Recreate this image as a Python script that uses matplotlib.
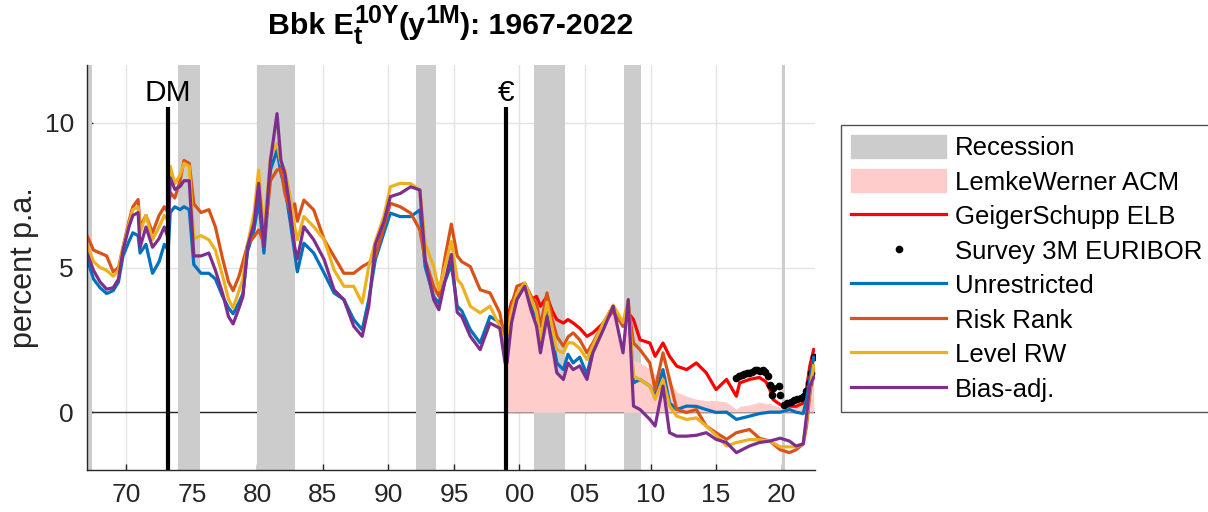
import matplotlib
matplotlib.use("Agg")
import matplotlib.pyplot as plt
from matplotlib.patches import Patch
from matplotlib.lines import Line2D

plt.rcParams['font.family'] = ['Liberation Sans', 'DejaVu Sans']

# ---------------- data ----------------
recessions = [(1967.0, 1967.35), (1973.95, 1975.6), (1980.0, 1982.9),
              (1992.1, 1993.6), (2001.1, 2003.5), (2008.0, 2009.3),
              (2020.0, 2020.25)]

years = [1967.0, 1967.5, 1968.0, 1968.5, 1969.0, 1969.4, 1969.75, 1970.2, 1970.5, 1970.9,
         1971.05, 1971.5, 1972.0, 1972.5, 1972.9, 1973.2, 1973.35, 1973.7, 1974.1, 1974.4,
         1974.8, 1975.15, 1975.7, 1976.3, 1976.8, 1977.35, 1977.8, 1978.15, 1978.6, 1978.9,
         1979.25, 1979.75, 1980.1, 1980.5, 1981.0, 1981.5, 1981.8, 1982.1, 1982.5, 1982.85,
         1983.05, 1983.55, 1984.3, 1985.1, 1985.85, 1986.6, 1987.35, 1988.0, 1988.5, 1989.0,
         1989.65, 1990.15, 1990.9, 1991.7, 1992.4, 1992.8, 1993.45, 1993.85, 1994.3, 1994.8,
         1995.25, 1995.6, 1996.25, 1997.0, 1997.75, 1998.5, 1998.9, 1999.05, 1999.4, 1999.8,
         2000.4, 2000.9, 2001.3, 2001.6, 2002.1, 2002.5, 2002.85, 2003.35, 2003.7, 2004.1,
         2004.6, 2005.15, 2005.6, 2006.4, 2007.15, 2007.9, 2008.3, 2008.7, 2009.2, 2009.95,
         2010.35, 2010.95, 2011.45, 2012.0, 2012.75, 2013.5, 2014.25, 2015.0, 2015.8, 2016.55,
         2017.55, 2018.3, 2019.1, 2019.9, 2020.6, 2021.1, 2021.65, 2021.9, 2022.15, 2022.45]

unrestricted = [5.3, 4.6, 4.3, 4.1, 4.2, 4.5, 5.4, 5.9, 6.2, 6.1,
                5.5, 5.8, 4.8, 5.2, 5.8, 5.6, 6.9, 7.1, 7.0, 7.1,
                7.0, 5.1, 4.8, 4.8, 4.6, 4.0, 3.6, 3.4, 3.8, 4.1,
                5.55, 6.3, 7.33, 5.5, 8.37, 9.06, 8.26, 7.79, 6.6, 5.5,
                4.85, 5.84, 5.5, 4.8, 4.12, 3.89, 3.2, 2.85, 3.89, 5.27,
                6.19, 6.88, 6.76, 6.76, 6.99, 5.03, 4.0, 3.77, 4.5, 5.1,
                3.66, 3.5, 2.85, 2.39, 3.31, 3.1, 2.05, 2.16, 3.3, 3.9,
                4.4, 3.7, 3.2, 2.28, 3.5, 2.6, 1.7, 1.47, 2.0, 1.7,
                1.9, 1.3, 2.2, 3.08, 3.66, 2.97, 3.8, 1.01, 1.13, 0.9,
                0.55, 1.47, 0.32, 0.09, 0.21, 0.2, 0.09, -0.01, 0.0, -0.25,
                -0.14, -0.05, 0.0, 0.0, 0.09, 0.0, -0.05, 0.44, 1.13, 1.9]

risk_rank = [6.1, 5.6, 5.5, 5.4, 4.85, 5.0, 5.7, 6.6, 7.1, 7.35,
             6.4, 6.8, 6.2, 6.8, 7.1, 6.9, 7.6, 7.4, 8.0, 8.7,
             8.6, 7.2, 6.9, 7.0, 6.4, 5.3, 4.5, 4.2, 4.7, 5.2,
             5.78, 6.07, 6.3, 5.84, 8.0, 8.37, 8.4, 7.56, 6.95, 7.2,
             6.6, 7.33, 6.99, 5.96, 5.38, 4.8, 4.8, 5.03, 5.16, 5.38,
             6.41, 7.22, 7.1, 6.88, 6.3, 5.27, 4.35, 4.0, 5.3, 6.5,
             5.4, 5.2, 5.03, 4.23, 4.12, 3.43, 2.5, 2.97, 3.7, 4.35,
             4.46, 4.0, 3.77, 2.97, 4.12, 3.2, 2.62, 2.28, 2.6, 2.74,
             2.5, 2.05, 2.39, 3.08, 3.5, 2.97, 3.7, 2.39, 2.16, 1.7,
             0.78, 2.05, 1.13, 0.09, -0.01, 0.09, -0.48, -0.71, -0.94, -0.71,
             -0.6, -0.9, -1.0, -1.3, -1.4, -1.3, -1.1, -0.5, 0.6, 1.59]

level_rw = [5.8, 5.2, 5.0, 4.9, 4.7, 4.9, 5.7, 6.5, 7.0, 7.1,
            6.2, 6.8, 5.96, 6.4, 6.8, 6.6, 8.5, 7.9, 8.2, 8.6,
            8.5, 6.0, 6.1, 5.96, 5.6, 4.7, 3.9, 3.6, 4.2, 4.6,
            5.8, 6.88, 8.37, 6.19, 8.83, 9.29, 8.6, 8.37, 7.45, 6.4,
            5.96, 6.76, 6.41, 5.96, 4.92, 4.35, 4.35, 3.77, 5.03, 5.9,
            6.76, 7.79, 7.91, 7.9, 7.68, 5.84, 5.03, 4.23, 5.0, 5.9,
            4.6, 4.4, 3.66, 3.43, 3.66, 2.97, 2.28, 2.6, 3.5, 4.1,
            4.46, 3.9, 3.43, 2.5, 3.8, 2.9, 2.16, 2.05, 2.4, 2.39,
            2.2, 1.82, 2.3, 3.08, 3.7, 3.1, 3.89, 1.24, 1.13, 0.9,
            0.44, 1.13, 0.21, -0.14, -0.25, -0.2, -0.48, -0.8, -1.17, -1.05,
            -0.95, -0.95, -1.0, -1.2, -1.2, -1.2, -1.1, -0.3, 0.8, 1.6]

bias_adj = [5.5, 4.9, 4.5, 4.25, 4.3, 4.6, 5.6, 6.4, 6.8, 6.9,
            5.7, 6.4, 5.7, 6.0, 6.4, 6.0, 8.1, 7.7, 7.8, 8.0,
            8.0, 5.4, 5.4, 5.5, 4.9, 4.1, 3.3, 3.05, 3.6, 4.0,
            5.72, 6.53, 7.91, 5.72, 8.71, 10.32, 8.7, 8.25, 7.0, 5.7,
            5.3, 6.41, 5.96, 5.27, 4.23, 3.89, 2.97, 2.62, 3.66, 5.8,
            6.58, 7.45, 7.56, 7.79, 7.68, 5.27, 3.89, 3.54, 4.5, 5.45,
            3.45, 3.3, 2.62, 2.16, 3.08, 2.9, 1.7, 1.7, 3.1, 3.89,
            4.35, 3.5, 2.97, 2.05, 3.31, 2.3, 1.36, 1.13, 1.7, 1.47,
            1.6, 1.13, 2.05, 2.85, 3.66, 2.05, 3.89, 0.21, 0.09, -0.25,
            -0.48, 0.9, -0.71, -0.83, -0.83, -0.8, -0.71, -0.94, -1.05, -1.4,
            -1.17, -1.05, -1.0, -0.9, -1.0, -1.17, -1.1, -0.14, 0.9, 1.2]

years_ez = [1999.05, 1999.4, 1999.8, 2000.4, 2000.9, 2001.3, 2001.6, 2002.1, 2002.5, 2002.85,
            2003.35, 2003.7, 2004.1, 2004.6, 2005.15, 2005.6, 2006.4, 2007.15, 2007.9, 2008.3,
            2008.7, 2009.2, 2009.95, 2010.35, 2010.95, 2011.45, 2012.0, 2012.75, 2013.5, 2014.25,
            2015.0, 2015.8, 2016.55, 2016.8, 2017.55, 2018.3, 2018.8, 2019.1, 2019.35, 2019.7,
            2020.1, 2020.6, 2021.1, 2021.6, 2021.9, 2022.15, 2022.45]

geiger_schupp = [3.2, 3.8, 4.12, 4.3, 3.9, 4.0, 3.66, 4.0, 3.5, 3.2,
                 3.08, 3.2, 3.08, 2.9, 2.62, 2.74, 3.08, 3.5, 3.08, 3.43,
                 3.2, 2.5, 2.39, 1.93, 2.39, 1.93, 1.59, 1.47, 1.7, 1.36,
                 0.78, 1.13, 0.55, 1.01, 1.13, 1.2, 1.05, 0.78, 0.44, 0.32,
                 0.21, 0.21, 0.2, 0.3, 0.8, 1.59, 2.16]

lemke_werner = [1.7, 3.0, 3.8, 4.3, 3.45, 2.9, 2.0, 3.25, 2.25, 1.3,
                1.1, 1.65, 1.45, 1.55, 1.1, 2.0, 2.8, 3.6, 2.0, 3.8,
                1.8, 1.7, 1.5, 1.3, 1.4, 1.1, 0.7, 0.55, 0.45, 0.4,
                0.4, 0.35, 0.1, 0.2, 0.25, 0.35, 0.3, 0.3, 0.25, 0.2,
                0.15, 0.2, 0.2, 0.25, 0.6, 1.4, 2.4]

survey_dates = [2016.55, 2016.75, 2016.95, 2017.15, 2017.35, 2017.55, 2017.75, 2017.95, 2018.15,
                2018.35, 2018.55, 2018.75, 2018.95, 2019.15, 2019.3, 2019.35, 2019.8, 2019.85,
                2020.2, 2020.45, 2020.7, 2020.95, 2021.2, 2021.45, 2021.7, 2021.87, 2022.1,
                2022.25, 2022.45]
survey_3m = [1.19, 1.25, 1.30, 1.33, 1.35, 1.37, 1.40, 1.45, 1.47,
             1.42, 1.45, 1.40, 1.25, 0.95, 0.6, 0.85, 0.9, 0.6,
             0.26, 0.3, 0.36, 0.43, 0.47, 0.5, 0.55, 0.72, 1.02,
             1.36, 1.92]

events = [(1973.2, 'DM'), (1999.0, '€')]
xtick_years = [1970, 1975, 1980, 1985, 1990, 1995, 2000, 2005, 2010, 2015, 2020]
xtick_labels = ['70', '75', '80', '85', '90', '95', '00', '05', '10', '15', '20']
ytick_values = [0, 5, 10]

# ---------------- colours ----------------
c_rec = '#CCCCCC'
c_pink = '#FFCCCC'
c_red = '#FF0000'
c_blue = '#0072BD'
c_orange = '#D95319'
c_yellow = '#EDB120'
c_purple = '#7E2F8E'
c_axis = '#262626'
LW = 2.3

W, H = 1208, 512
fig = plt.figure(figsize=(W / 100, H / 100), dpi=100)
ax = fig.add_axes([87/W, 42/H, 728/W, 405/H])

for a, b in recessions:
    ax.axvspan(a, b, color=c_rec, lw=0, zorder=1)

ax.axhline(0, color=c_axis, lw=1.0, zorder=0.8)

ax.fill_between(years_ez, 0, lemke_werner, color=c_pink, lw=0, zorder=1.5)
ax.plot(years_ez, geiger_schupp, color=c_red, lw=LW, zorder=2)
ax.plot(survey_dates, survey_3m, ls='none', marker='o', ms=4.5, color='black', zorder=2.2)
ax.plot(years, unrestricted, color=c_blue, lw=LW, zorder=2.3)
ax.plot(years, risk_rank, color=c_orange, lw=LW, zorder=2.4)
ax.plot(years, level_rw, color=c_yellow, lw=LW, zorder=2.5)
ax.plot(years, bias_adj, color=c_purple, lw=LW, zorder=2.6)

for x, lab in events:
    ax.plot([x, x], [-2, 10.55], color='black', lw=3.0, zorder=5, solid_capstyle='butt')
    ax.text(x, 10.75, lab, ha='center', va='baseline', fontsize=21.5, color='black')

ax.set_xlim(1967.0, 2022.55)
ax.set_ylim(-2, 12)
ax.set_xticks(xtick_years)
ax.set_xticklabels(xtick_labels)
ax.set_yticks(ytick_values)
ax.set_axisbelow(True)
ax.grid(True, color='#E3E3E3', lw=1.0)
for s in ['top', 'right']:
    ax.spines[s].set_visible(False)
for s in ['left', 'bottom']:
    ax.spines[s].set_color(c_axis)
    ax.spines[s].set_linewidth(1.0)
    ax.spines[s].set_zorder(6)
ax.tick_params(axis='both', direction='in', length=4, width=1, color=c_axis,
               labelcolor=c_axis, labelsize=19)
ax.tick_params(axis='x', pad=9)
ax.tick_params(axis='y', pad=9.5)
ax.set_ylabel('percent p.a.', fontsize=22, color=c_axis, labelpad=4)

# ---- title built from pieces (sub/superscripts like the reference) ----
S_main, S_small = 21.8, 18.0
segments = [[('Bbk E', S_main, 0)],
            [('t', S_small, -10), ('10Y', S_small, 11)],
            [('(y', S_main, 0)],
            [('1M', S_small, 11)],
            [('): 1967-2022', S_main, 0)]]
renderer = fig.canvas.get_renderer()
seg_texts, seg_w = [], []
for seg in segments:
    ts, wmax = [], 0
    for s, fs, dy in seg:
        t = fig.text(0, 0, s, fontsize=fs, fontweight='bold', ha='left', va='baseline')
        wmax = max(wmax, t.get_window_extent(renderer).width)
        ts.append((t, dy))
    seg_texts.append(ts)
    seg_w.append(wmax)
title_center = 451
base_y = 34
xcur = title_center - sum(seg_w) / 2
for ts, w in zip(seg_texts, seg_w):
    for t, dy in ts:
        t.set_position((xcur / W, 1 - (base_y - dy) / H))
    xcur += w

handles = [Patch(color=c_rec), Patch(color=c_pink),
           Line2D([], [], color=c_red, lw=LW),
           Line2D([], [], ls='none', marker='o', ms=4.5, color='black'),
           Line2D([], [], color=c_blue, lw=LW),
           Line2D([], [], color=c_orange, lw=LW),
           Line2D([], [], color=c_yellow, lw=LW),
           Line2D([], [], color=c_purple, lw=LW)]
labels = ['Recession', 'LemkeWerner ACM', 'GeigerSchupp ELB', 'Survey 3M EURIBOR',
          'Unrestricted', 'Risk Rank', 'Level RW', 'Bias-adj.']
leg = fig.legend(handles, labels, loc='upper left', bbox_to_anchor=(841/W, 1 - 124.5/H),
                 fontsize=18.5, frameon=True, fancybox=False, edgecolor=c_axis,
                 handlelength=3.7, handleheight=1.0, handletextpad=0.35,
                 labelspacing=0.36, borderpad=0.4, borderaxespad=0.0)
leg.get_frame().set_linewidth(1.0)

fig.savefig('out.png', dpi=100)
